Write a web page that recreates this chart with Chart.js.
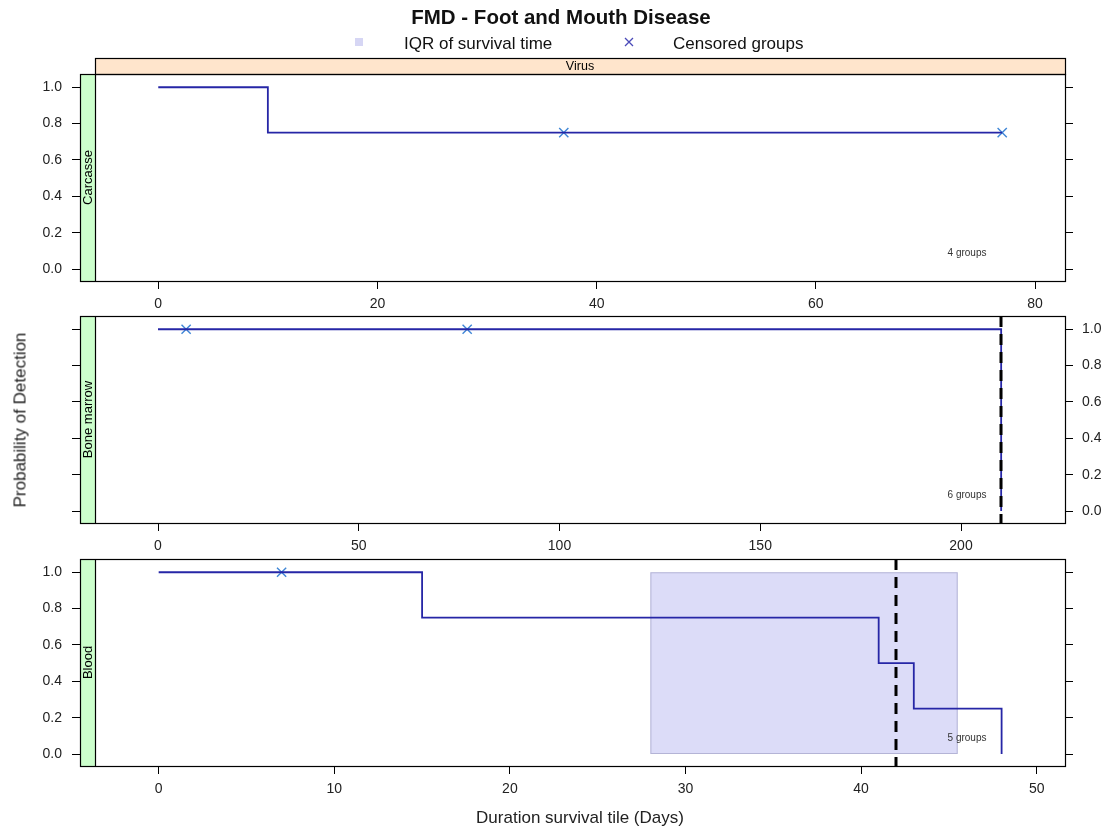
<!DOCTYPE html>
<html>
<head>
<meta charset="utf-8">
<title>FMD - Foot and Mouth Disease</title>
<script src="https://cdn.jsdelivr.net/npm/chart.js@4/dist/chart.umd.min.js"></script>
<style>
  html, body { margin: 0; padding: 0; background: #fff; }
  #wrap { position: relative; width: 1107px; height: 829px; overflow: hidden;
          font-family: "Liberation Sans", Arial, sans-serif; color: #111; }
  #wrap canvas { position: absolute; left: 0; top: 0; }
  .t { position: absolute; white-space: nowrap; line-height: 1; transform: translate(-50%, -50%); }
  .l { position: absolute; white-space: nowrap; line-height: 1; transform: translate(0, -50%); }
</style>
</head>
<body>
<div id="wrap">
  <canvas id="p1" width="1107" height="829"></canvas>
  <canvas id="p2" width="1107" height="829"></canvas>
  <canvas id="p3" width="1107" height="829"></canvas>

  <div class="t" style="left:561px;top:17px;font-size:20.5px;font-weight:bold;">FMD - Foot and Mouth Disease</div>
  <div style="position:absolute;left:355px;top:38px;width:8px;height:8px;background:#d6d6f4;"></div>
  <div class="l" style="left:404px;top:43px;font-size:17px;">IQR of survival time</div>
  <svg style="position:absolute;left:624px;top:37px;" width="10" height="10" viewBox="0 0 10 10">
    <path d="M1 1 L9 9 M9 1 L1 9" stroke="#4a4ab8" stroke-width="1.3" fill="none"/>
  </svg>
  <div class="l" style="left:673px;top:43px;font-size:17px;">Censored groups</div>

  <div class="t" style="left:20px;top:420px;font-size:17px;color:#222;transform:translate(-50%,-50%) rotate(-90deg);">Probability of Detection</div>
  <div class="t" style="left:580px;top:817px;font-size:17px;color:#222;">Duration survival tile (Days)</div>
</div>

<script>
// Shared y ticks (probability)
const yTicks = [0, 0.2, 0.4, 0.6, 0.8, 1.0];

// Carcasse (virus) - Kaplan-Meier steps and censored groups
const carcTimes = [0, 10, 77];
const carcSurv = [1, 0.75, 0.75];
const carcCensorTimes = [37, 77];
const carcCensorSurv = [0.75, 0.75];
const carcGroups = 4;
const carcXTicks = [0, 20, 40, 60, 80];

// Bone marrow
const boneTimes = [0, 210];
const boneSurv = [1, 0];
const boneCensorTimes = [7, 77];
const boneCensorSurv = [1, 1];
const boneMedian = 210;
const boneGroups = 6;
const boneXTicks = [0, 50, 100, 150, 200];

// Blood
const bloodTimes = [0, 15, 41, 43, 48];
const bloodSurv = [1, 0.75, 0.5, 0.25, 0];
const bloodCensorTimes = [7];
const bloodCensorSurv = [1];
const bloodMedian = 42;
const bloodIQR = [28, 45.5];
const bloodGroups = 5;
const bloodXTicks = [0, 10, 20, 30, 40, 50];

const FONT = '"Liberation Sans", Arial, sans-serif';
Chart.defaults.font.family = FONT;
Chart.defaults.font.size = 14;
Chart.defaults.color = '#222';

const LINE_COLOR = '#2626a6';
const CENSOR_COLOR = '#3f86d6';
const PAGE_W = 1107, PAGE_H = 829;
const LEFT_W = 40, RIGHT_W = 40, XAXIS_H = 30;

// Panel decorations: frame, conditioning strips, IQR band, median line, group count
const panelDecor = {
  id: 'panelDecor',
  beforeDatasetsDraw(chart, args, o) {
    const { ctx, scales: { x, y } } = chart;
    if (o.iqr) {
      const x0 = x.getPixelForValue(o.iqr[0]), x1 = x.getPixelForValue(o.iqr[1]);
      const y0 = y.getPixelForValue(1), y1 = y.getPixelForValue(0);
      ctx.save();
      ctx.fillStyle = '#dcdcf8';
      ctx.fillRect(x0, y0, x1 - x0, y1 - y0);
      ctx.strokeStyle = 'rgba(170,170,205,0.8)';
      ctx.lineWidth = 1;
      ctx.strokeRect(x0 + 0.5, y0 + 0.5, x1 - x0 - 1, y1 - y0 - 1);
      ctx.restore();
    }
  },
  afterDatasetsDraw(chart, args, o) {
    const { ctx, chartArea: a, scales: { x } } = chart;
    ctx.save();
    if (o.median != null) {
      const xm = Math.round(x.getPixelForValue(o.median));
      ctx.strokeStyle = '#000';
      ctx.lineWidth = 3;
      ctx.setLineDash([11, 7]);
      ctx.beginPath();
      ctx.moveTo(xm, a.top);
      ctx.lineTo(xm, a.bottom);
      ctx.stroke();
      ctx.setLineDash([]);
    }
    ctx.fillStyle = '#333';
    ctx.font = '10px ' + FONT;
    ctx.textAlign = 'center';
    ctx.textBaseline = 'middle';
    ctx.fillText(o.groups + ' groups', 967, a.bottom - 28);
    ctx.restore();
  },
  afterDraw(chart, args, o) {
    const { ctx, chartArea: a } = chart;
    ctx.save();
    // left strip
    ctx.fillStyle = '#ccffcc';
    ctx.fillRect(a.left, a.top, 15, a.bottom - a.top);
    ctx.strokeStyle = '#000';
    ctx.lineWidth = 1.2;
    ctx.beginPath();
    ctx.moveTo(a.left + 15.5, a.top);
    ctx.lineTo(a.left + 15.5, a.bottom);
    ctx.stroke();
    ctx.save();
    ctx.translate(a.left + 8.5, (a.top + a.bottom) / 2);
    ctx.rotate(-Math.PI / 2);
    ctx.fillStyle = '#000';
    ctx.font = '13px ' + FONT;
    ctx.textAlign = 'center';
    ctx.textBaseline = 'middle';
    ctx.fillText(o.label, 0, 0);
    ctx.restore();
    // top strip
    if (o.topLabel) {
      const sx = a.left + 15, sy = a.top - 16;
      ctx.fillStyle = '#ffe5cc';
      ctx.fillRect(sx, sy, a.right - sx, 16);
      ctx.strokeRect(sx + 0.5, sy + 0.5, a.right - sx, 16);
      ctx.fillStyle = '#000';
      ctx.font = '12.5px ' + FONT;
      ctx.textAlign = 'center';
      ctx.textBaseline = 'middle';
      ctx.fillText(o.topLabel, (sx + a.right) / 2, sy + 9);
    }
    // frame
    ctx.strokeStyle = '#000';
    ctx.lineWidth = 1.2;
    ctx.strokeRect(a.left + 0.5, a.top + 0.5, a.right - a.left, a.bottom - a.top);
    ctx.restore();
  }
};

function fixedTicks(values) {
  return scale => { scale.ticks = values.map(v => ({ value: v })); };
}

function axisStyle(tickLabels, padding) {
  return {
    grid: { display: true, drawOnChartArea: false, drawTicks: true, tickLength: 8, color: '#000', lineWidth: 1 },
    border: { display: true, color: '#000', width: 1 },
    ticks: { padding: padding, display: true, color: tickLabels ? '#222' : 'rgba(0,0,0,0)', font: { size: 14 } }
  };
}

function makePanel(id, cfg) {
  const xs = axisStyle(true, 7);
  const yl = axisStyle(cfg.leftLabels, 10);
  const yr = axisStyle(!cfg.leftLabels, 9);
  return new Chart(document.getElementById(id), {
    type: 'line',
    data: {
      datasets: [
        {
          data: cfg.times.map((t, i) => ({ x: t, y: cfg.surv[i] })),
          stepped: true,
          borderColor: LINE_COLOR,
          borderWidth: 1.8,
          pointRadius: 0,
          fill: false
        },
        {
          data: cfg.censorTimes.map((t, i) => ({ x: t, y: cfg.censorSurv[i] })),
          showLine: false,
          pointStyle: 'crossRot',
          pointRadius: 6.5,
          pointBorderWidth: 1.4,
          borderColor: CENSOR_COLOR,
          pointBorderColor: CENSOR_COLOR
        }
      ]
    },
    options: {
      responsive: false,
      animation: false,
      events: [],
      layout: {
        padding: {
          left: 80 - LEFT_W,
          right: PAGE_W - 1065 - RIGHT_W,
          top: cfg.top,
          bottom: PAGE_H - cfg.bottom - XAXIS_H
        }
      },
      plugins: {
        legend: { display: false },
        tooltip: { enabled: false },
        panelDecor: { label: cfg.label, topLabel: cfg.topLabel, groups: cfg.groups, median: cfg.median, iqr: cfg.iqr }
      },
      scales: {
        x: Object.assign({
          type: 'linear', position: 'bottom', min: cfg.xMin, max: cfg.xMax,
          afterBuildTicks: fixedTicks(cfg.xTicks),
          afterFit: s => { s.height = XAXIS_H; }
        }, xs),
        y: Object.assign({
          type: 'linear', position: 'left', min: -0.066, max: 1.073,
          afterBuildTicks: fixedTicks(yTicks),
          afterFit: s => { s.width = LEFT_W; }
        }, yl, { ticks: Object.assign({}, yl.ticks, { callback: v => v.toFixed(1) }) }),
        y2: Object.assign({
          type: 'linear', position: 'right', min: -0.066, max: 1.073,
          afterBuildTicks: fixedTicks(yTicks),
          afterFit: s => { s.width = RIGHT_W; }
        }, yr, { ticks: Object.assign({}, yr.ticks, { callback: v => v.toFixed(1) }) })
      }
    },
    plugins: [panelDecor]
  });
}

makePanel('p1', {
  label: 'Carcasse', topLabel: 'Virus', top: 74, bottom: 281,
  times: carcTimes, surv: carcSurv, censorTimes: carcCensorTimes, censorSurv: carcCensorSurv,
  groups: carcGroups, median: null, iqr: null,
  xMin: -7.14, xMax: 82.73, xTicks: carcXTicks, leftLabels: true
});

makePanel('p2', {
  label: 'Bone marrow', topLabel: null, top: 316, bottom: 523,
  times: boneTimes, surv: boneSurv, censorTimes: boneCensorTimes, censorSurv: boneCensorSurv,
  groups: boneGroups, median: boneMedian, iqr: null,
  xMin: -19.43, xMax: 225.9, xTicks: boneXTicks, leftLabels: false
});

makePanel('p3', {
  label: 'Blood', topLabel: null, top: 559, bottom: 766,
  times: bloodTimes, surv: bloodSurv, censorTimes: bloodCensorTimes, censorSurv: bloodCensorSurv,
  groups: bloodGroups, median: bloodMedian, iqr: bloodIQR,
  xMin: -4.48, xMax: 51.61, xTicks: bloodXTicks, leftLabels: true
});
</script>
</body>
</html>
